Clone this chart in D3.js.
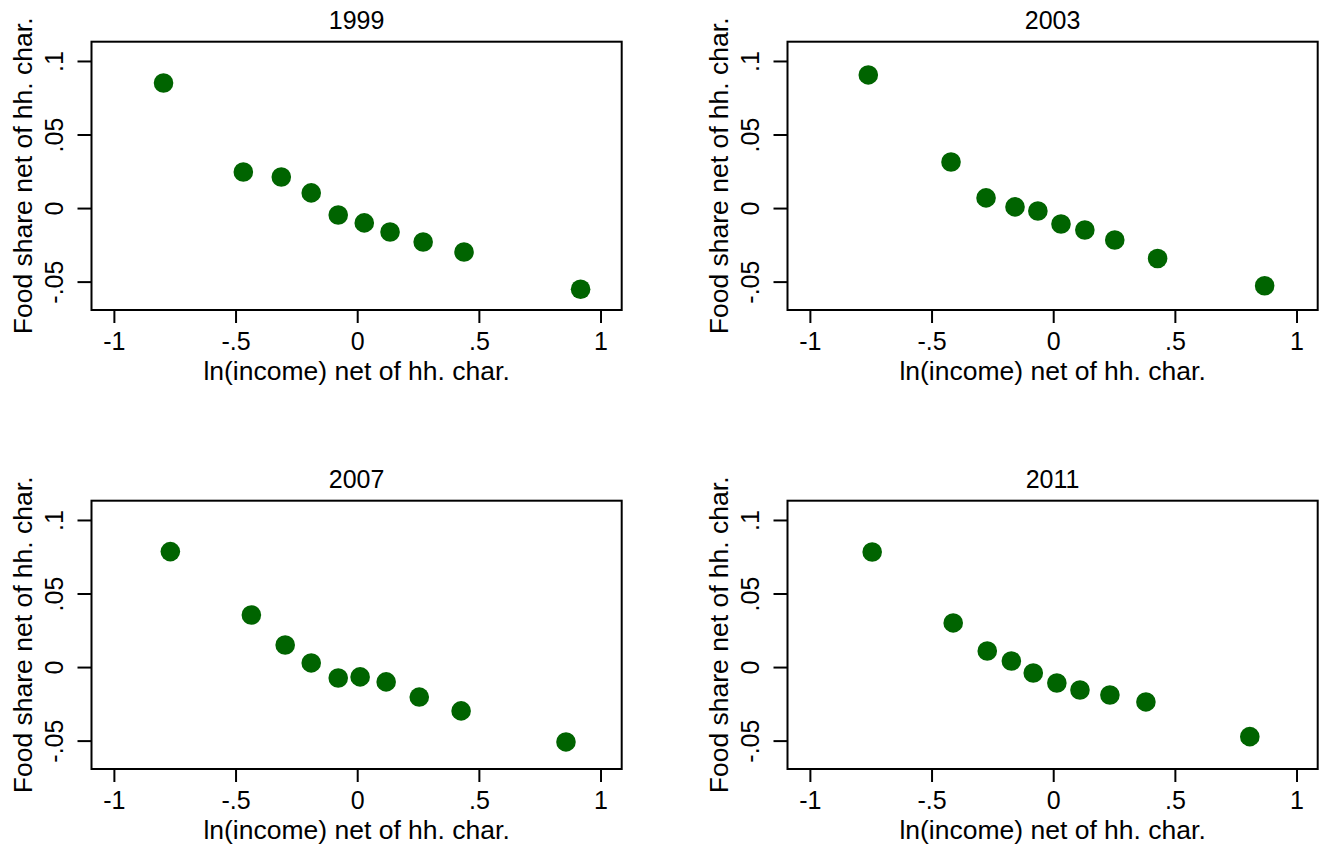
<!DOCTYPE html>
<html>
<head>
<meta charset="utf-8">
<script src="https://cdn.jsdelivr.net/npm/d3@7"></script>
<style>
  body { margin: 0; background: #fff; }
  svg { display: block; font-family: "Liberation Sans", Arial, Helvetica, sans-serif; }
</style>
</head>
<body>
<div id="chart"></div>
<script>
"use strict"

// data
const years = ["1999", "2003", "2007", "2011"];

const income1999 = [-0.796, -0.468, -0.312, -0.189, -0.078, 0.029, 0.135, 0.271, 0.439, 0.918];
const food1999   = [0.0850, 0.0245, 0.0211, 0.0103, -0.0047, -0.0101, -0.0163, -0.0231, -0.0299, -0.0552];

const income2003 = [-0.760, -0.420, -0.276, -0.157, -0.063, 0.032, 0.130, 0.253, 0.429, 0.869];
const food2003   = [0.0905, 0.0313, 0.0069, 0.0008, -0.0020, -0.0108, -0.0149, -0.0217, -0.0343, -0.0528];

const income2007 = [-0.768, -0.435, -0.296, -0.189, -0.078, 0.012, 0.119, 0.255, 0.427, 0.858];
const food2007   = [0.0785, 0.0354, 0.0150, 0.0028, -0.0074, -0.0067, -0.0101, -0.0204, -0.0298, -0.0509];

const income2011 = [-0.744, -0.411, -0.271, -0.172, -0.082, 0.015, 0.110, 0.233, 0.381, 0.808];
const food2011   = [0.0782, 0.0300, 0.0109, 0.0041, -0.0040, -0.0108, -0.0156, -0.0190, -0.0237, -0.0473];

const xTicks = [-1, -0.5, 0, 0.5, 1];
const xTickLabels = ["-1", "-.5", "0", ".5", "1"];
const yTicks = [-0.05, 0, 0.05, 0.1];
const yTickLabels = ["-.05", "0", ".05", ".1"];

const xTitle = "ln(income) net of hh. char.";
const yTitle = "Food share net of hh. char.";

const seriesList = [
    { year: years[0], x: income1999, y: food1999 },
    { year: years[1], x: income2003, y: food2003 },
    { year: years[2], x: income2007, y: food2007 },
    { year: years[3], x: income2011, y: food2011 }
];

const width = 1332;
const height = 848;
const panelOffsetX = 696;
const panelOffsetY = 459;
const plotLeft = 91.5;
const plotTop = 41.7;
const plotWidth = 530.2;
const plotHeight = 268.3;
const dotRadius = 9.8;
const dotColor = "#006400";

const xScale = d3.scaleLinear().domain([-1.092, 1.087]).range([0, plotWidth]);
const yScale = d3.scaleLinear().domain([-0.0693, 0.1131]).range([plotHeight, 0]);

const svg = d3.select("#chart").append("svg")
    .attr("width", width)
    .attr("height", height);

seriesList.forEach((series, i) => {
    const col = i % 2;
    const row = Math.floor(i / 2);

    const g = svg.append("g")
        .attr("transform", `translate(${plotLeft + col * panelOffsetX},${plotTop + row * panelOffsetY})`);

    // x axis
    const xAxis = g.append("g")
        .attr("transform", `translate(0,${plotHeight})`)
        .call(d3.axisBottom(xScale)
            .tickValues(xTicks)
            .tickFormat((_, j) => xTickLabels[j])
            .tickSize(13)
            .tickSizeOuter(0));
    xAxis.select(".domain").remove();
    xAxis.selectAll("line").attr("stroke", "#000").attr("stroke-width", 2);
    xAxis.selectAll("text")
        .attr("y", 40)
        .attr("dy", 0)
        .attr("font-size", 25)
        .attr("fill", "#000");

    // y axis, labels turned like the original
    const yAxis = g.append("g")
        .call(d3.axisLeft(yScale)
            .tickValues(yTicks)
            .tickFormat((_, j) => yTickLabels[j])
            .tickSize(14)
            .tickSizeOuter(0));
    yAxis.select(".domain").remove();
    yAxis.selectAll("line").attr("stroke", "#000").attr("stroke-width", 2);
    yAxis.selectAll("text")
        .attr("x", 0)
        .attr("y", -29)
        .attr("dy", 0)
        .attr("transform", "rotate(-90)")
        .attr("text-anchor", "middle")
        .attr("font-size", 25)
        .attr("fill", "#000");

    // frame
    g.append("rect")
        .attr("x", 0)
        .attr("y", 0)
        .attr("width", plotWidth)
        .attr("height", plotHeight)
        .attr("fill", "none")
        .attr("stroke", "#000")
        .attr("stroke-width", 2);

    // points
    g.selectAll(".dot")
        .data(series.x.map((v, j) => ({ x: v, y: series.y[j] })))
        .enter()
        .append("circle")
            .attr("class", "dot")
            .attr("cx", d => xScale(d.x))
            .attr("cy", d => yScale(d.y))
            .attr("r", dotRadius)
            .attr("fill", dotColor);

    // titles
    g.append("text")
        .attr("x", plotWidth / 2)
        .attr("y", -13.2)
        .attr("text-anchor", "middle")
        .attr("font-size", 25)
        .text(series.year);

    g.append("text")
        .attr("x", plotWidth / 2)
        .attr("y", plotHeight + 70)
        .attr("text-anchor", "middle")
        .attr("font-size", 26.5)
        .text(xTitle);

    g.append("text")
        .attr("transform", `translate(-59.5,${plotHeight / 2}) rotate(-90)`)
        .attr("text-anchor", "middle")
        .attr("font-size", 26.5)
        .text(yTitle);
});
</script>
</body>
</html>
